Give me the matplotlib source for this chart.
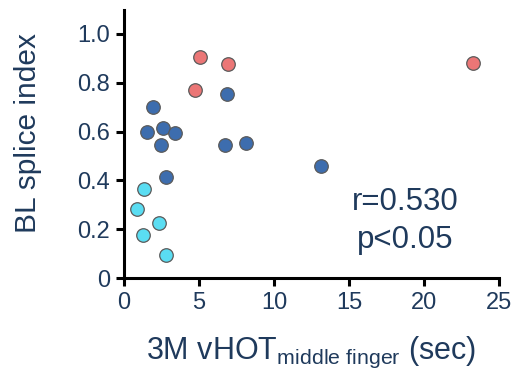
import matplotlib
matplotlib.use("Agg")
import matplotlib.pyplot as plt

plt.rcParams['font.family'] = ['Liberation Sans', 'DejaVu Sans']
plt.rcParams['mathtext.fontset'] = 'custom'
plt.rcParams['mathtext.rm'] = 'Liberation Sans'
plt.rcParams['mathtext.it'] = 'Liberation Sans:italic'

# vHOT time (sec) vs. BL splice index, grouped by cluster
red_x = [5.07, 6.95, 23.24, 4.76]
red_y = [0.904, 0.877, 0.882, 0.769]

blue_x = [6.84, 1.91, 1.55, 2.58, 3.42, 2.45, 6.71, 8.13, 13.12, 2.78]
blue_y = [0.752, 0.700, 0.599, 0.616, 0.594, 0.547, 0.544, 0.555, 0.457, 0.413]

cyan_x = [1.35, 0.84, 2.35, 1.24, 2.78]
cyan_y = [0.366, 0.283, 0.224, 0.178, 0.096]

x_ticks = [0, 5, 10, 15, 20, 25]
y_ticks = [0, 0.2, 0.4, 0.6, 0.8, 1.0]
y_tick_labels = ["0", "0.2", "0.4", "0.6", "0.8", "1.0"]

text_color = "#1F3A5C"

fig = plt.figure(figsize=(5.18, 3.76), dpi=100)
ax = fig.add_axes([0.2394, 0.2606, 0.7239, 0.714])

for xs, ys, c in [(red_x, red_y, "#EB7676"),
                  (blue_x, blue_y, "#3D6DAE"),
                  (cyan_x, cyan_y, "#5ADDF2")]:
    ax.scatter(xs, ys, s=95, c=c, edgecolors="#5A5A5A", linewidths=0.9,
               zorder=3, clip_on=False)

ax.set_xlim(0, 25)
ax.set_ylim(0, 1.1)
ax.set_xticks(x_ticks)
ax.set_yticks(y_ticks)
ax.set_yticklabels(y_tick_labels)

for s in ["top", "right"]:
    ax.spines[s].set_visible(False)
for s in ["left", "bottom"]:
    ax.spines[s].set_linewidth(2.2)
    ax.spines[s].set_color("black")

ax.tick_params(axis="both", length=6, width=2.2, color="black",
               labelsize=17, labelcolor=text_color, pad=4)

ax.set_ylabel("BL splice index", fontsize=21.5, color=text_color)
ax.yaxis.set_label_coords(-0.218, 0.54)
ax.set_xlabel(r"3M vHOT$_{\mathrm{middle\ finger}}$ (sec)", fontsize=22,
              color=text_color, labelpad=15)

ax.text(18.75, 0.31, "r=0.530", fontsize=22.5, color=text_color,
        ha="center", va="center")
ax.text(18.75, 0.155, "p<0.05", fontsize=22.5, color=text_color,
        ha="center", va="center")

fig.savefig("out.png", dpi=100)
